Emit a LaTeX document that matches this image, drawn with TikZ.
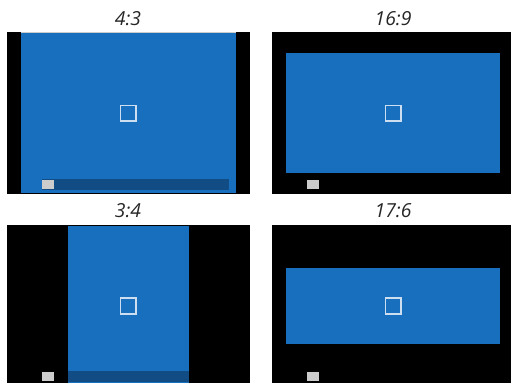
\documentclass[tikz,border=0pt]{standalone}
\usepackage{fontspec}
\setsansfont{Open Sans}
\definecolor{winblue}{RGB}{23,111,190}
\definecolor{barblue}{RGB}{17,76,132}
\definecolor{btngray}{RGB}{204,204,204}
\definecolor{iconline}{RGB}{205,222,240}
\begin{document}
\begin{tikzpicture}[x=0.75pt, y=-0.75pt,
  screen/.style={fill=black},
  desktop/.style={fill=winblue},
  taskbar/.style={fill=barblue},
  startbtn/.style={fill=btngray},
  icon/.style={draw=iconline, line width=1.2pt},
  ratio/.style={font=\sffamily\itshape\fontsize{14.5}{16}\selectfont, text=black!85, inner sep=0pt}]
  \useasboundingbox (0,0) rectangle (511,383);

  % 4:3
  \node[ratio] (t43) at (128,18.5) {4:3};
  \fill[screen] (7,32) rectangle (250,194);
  \fill[desktop] (21,33) rectangle (236,193);
  \draw[btngray, line width=0.6pt] (21,32.6) -- (236,32.6);
  \fill[taskbar] (42,179) rectangle (229,190);
  \fill[startbtn] (42,180) rectangle (54,189);
  \draw[icon] (120.5,105.5) rectangle (136,121);

  % 16:9
  \node[ratio] (t169) at (393,18.5) {16:9};
  \fill[screen] (272,32) rectangle (511,194);
  \fill[desktop] (286,53) rectangle (500,173);
  \fill[startbtn] (307,180) rectangle (319,189);
  \draw[icon] (385.5,105.5) rectangle (401,121);

  % 3:4
  \node[ratio] (t34) at (128,211) {3:4};
  \fill[screen] (7,225) rectangle (250,383);
  \fill[desktop] (68,226) rectangle (189,383);
  \fill[taskbar] (68,371) rectangle (189,382);
  \fill[startbtn] (42,372) rectangle (54,381);
  \draw[icon] (120.5,298) rectangle (136,314);

  % 17:6
  \node[ratio] (t176) at (393,211) {17:6};
  \fill[screen] (272,225) rectangle (511,383);
  \fill[desktop] (286,268) rectangle (500,344);
  \fill[startbtn] (307,372) rectangle (319,381);
  \draw[icon] (385.5,298) rectangle (401,314);
\end{tikzpicture}
\end{document}
